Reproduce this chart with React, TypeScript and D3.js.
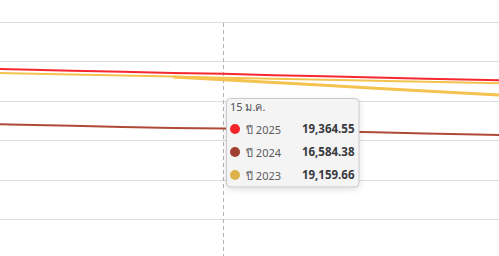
import React from "react";
import * as d3 from "d3";

const days = [10, 11, 12, 13, 14, 15, 16, 17, 18, 19, 20, 21];
const series2025 = [19643, 19584, 19526, 19469, 19410, 19364.55, 19294, 19236, 19178, 19120, 19062, 19004];
const series2024 = [16834, 16779, 16724, 16669, 16614, 16584.38, 16504, 16449, 16394, 16339, 16284, 16229];
const series2023 = [19437, 19384, 19330, 19278, 19225, 19159.66, 19119, 19066, 19013, 18960, 18908, 18854];
const series2023b = [null, null, null, null, 19203, 19061, 18920, 18779, 18637, 18495, 18354, 18212];
const gridValues = [22000, 20000, 18000, 16000, 14000, 12000];
const tooltipTitle = "15 ม.ค.";
const tooltipDay = 15;
const legendRows = [
  { label: "ปี 2025", value: "19,364.55", color: "#f4262b" },
  { label: "ปี 2024", value: "16,584.38", color: "#a0402e" },
  { label: "ปี 2023", value: "19,159.66", color: "#deb24a" },
];

const W = 499;
const H = 256;

export default function App() {
  const x = d3.scaleLinear().domain([15, 16]).range([223.5, 274]);
  const y = d3.scaleLinear().domain([20000, 18000]).range([61.3, 100.7]);
  const line = d3
    .line<[number, number | null]>()
    .defined((d) => d[1] != null)
    .x((d) => x(d[0]))
    .y((d) => y(d[1] as number));
  const mk = (arr: (number | null)[]) => line(days.map((d, i) => [d, arr[i]] as [number, number | null])) || "";

  const tx = 226.5;
  const ty = 98.5;
  const tw = 132.5;
  const th = 88.5;
  const rowY = [129, 152, 175];

  return (
    <svg
      width={W}
      height={H}
      style={{ position: "absolute", left: 0, top: 0, background: "#fff" }}
      fontFamily="'Noto Sans', sans-serif"
    >
      <defs>
        <filter id="sh" x="-20%" y="-20%" width="140%" height="150%">
          <feDropShadow dx="0" dy="2" stdDeviation="3" floodColor="#000" floodOpacity="0.12" />
        </filter>
      </defs>
      {gridValues.map((v) => (
        <line key={v} x1={0} x2={W} y1={Math.round(y(v)) + 0.5} y2={Math.round(y(v)) + 0.5} stroke="#dcdce2" strokeWidth={1} />
      ))}
      <line
        x1={x(tooltipDay)}
        x2={x(tooltipDay)}
        y1={23}
        y2={H}
        stroke="#b4b4b8"
        strokeWidth={1}
        strokeDasharray="4 3"
      />
      <path d={mk(series2024)} fill="none" stroke="#b04a38" strokeWidth={2} />
      <path d={mk(series2023b)} fill="none" stroke="#f4c24e" strokeWidth={3} />
      <path d={mk(series2023)} fill="none" stroke="#f4c24e" strokeWidth={2} />
      <path d={mk(series2025)} fill="none" stroke="#f5282f" strokeWidth={2} />

      <rect x={tx} y={ty} width={tw} height={th} rx={4} fill="#f4f4f5" stroke="#c8c8cd" strokeWidth={1} filter="url(#sh)" />
      <text x={230} y={111} fontSize={11} fill="#555">
        {tooltipTitle}
      </text>
      {legendRows.map((r, i) => (
        <g key={r.label}>
          <circle cx={235} cy={rowY[i]} r={5} fill={r.color} />
          <text x={246} y={rowY[i] + 4.5} fontSize={11} fill="#5a5a5e">
            {r.label}
          </text>
          <text x={354.5} y={rowY[i] + 3.5} fontSize={11.5} fontWeight="bold" fill="#3a3a3e" textAnchor="end">
            {r.value}
          </text>
        </g>
      ))}
    </svg>
  );
}
